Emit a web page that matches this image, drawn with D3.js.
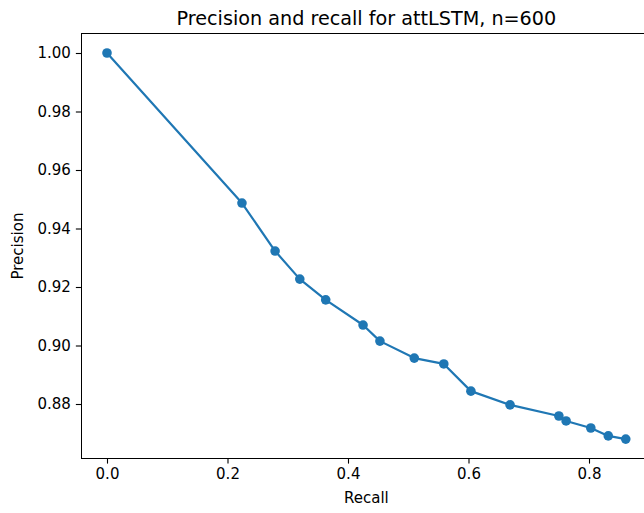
<!DOCTYPE html>
<html>
<head>
<meta charset="utf-8">
<script src="https://cdn.jsdelivr.net/npm/d3@7"></script>
<style>
  html, body { margin: 0; padding: 0; background: #fff; }
  svg { display: block; }
  text { font-family: "DejaVu Sans", sans-serif; fill: #000; }
</style>
</head>
<body>
<svg id="chart" width="644" height="513"></svg>
<script>
const recall = [0.0, 0.224, 0.279, 0.320, 0.363, 0.425, 0.453, 0.510, 0.559, 0.604, 0.669, 0.750, 0.762, 0.803, 0.832, 0.861];
const precision = [1.0, 0.9487, 0.9323, 0.9227, 0.9156, 0.9070, 0.9015, 0.8957, 0.8937, 0.8844, 0.8797, 0.8759, 0.8742, 0.8718, 0.8691, 0.8680];
const xTicks = [0.0, 0.2, 0.4, 0.6, 0.8];
const yTicks = [0.88, 0.90, 0.92, 0.94, 0.96, 0.98, 1.00];
const title = "Precision and recall for attLSTM, n=600";
const xLabel = "Recall";
const yLabel = "Precision";

const svg = d3.select("#chart");
const color = "#1f77b4";

const xExt = d3.extent(recall), yExt = d3.extent(precision);
const xPad = (xExt[1] - xExt[0]) * 0.05, yPad = (yExt[1] - yExt[0]) * 0.05;
const ppx = 602.5, ppy = 2925;
const x0 = 107, y1 = 53;
const x = d3.scaleLinear()
  .domain([xExt[0] - xPad, xExt[1] + xPad])
  .range([x0 + (xExt[0] - xPad) * ppx, x0 + (xExt[1] + xPad) * ppx]);
const y = d3.scaleLinear()
  .domain([yExt[0] - yPad, yExt[1] + yPad])
  .range([y1 + (1 - (yExt[0] - yPad)) * ppy, y1 + (1 - (yExt[1] + yPad)) * ppy]);

const L = x.range()[0], R = x.range()[1], B = y.range()[0], T = y.range()[1];

// Data line and markers
const data = recall.map((r, i) => ({ r, p: precision[i] }));
svg.append("path")
  .datum(data)
  .attr("fill", "none")
  .attr("stroke", color)
  .attr("stroke-width", 2.2)
  .attr("stroke-linejoin", "round")
  .attr("d", d3.line().x(d => x(d.r)).y(d => y(d.p)));
svg.append("g").selectAll("circle").data(data).join("circle")
  .attr("cx", d => x(d.r)).attr("cy", d => y(d.p))
  .attr("r", 4.8).attr("fill", color);

// Axes
const fmtX = d3.format(".1f"), fmtY = d3.format(".2f");
const xAxis = svg.append("g").attr("transform", `translate(0,${B})`)
  .call(d3.axisBottom(x).tickValues(xTicks).tickFormat(fmtX).tickSizeOuter(0).tickSize(5.2).tickPadding(5));
const yAxis = svg.append("g").attr("transform", `translate(${L},0)`)
  .call(d3.axisLeft(y).tickValues(yTicks).tickFormat(fmtY).tickSizeOuter(0).tickSize(5.2).tickPadding(5));
[xAxis, yAxis].forEach(g => {
  g.select(".domain").remove();
  g.selectAll(".tick line").attr("stroke", "#000").attr("stroke-width", 1.1);
  g.selectAll(".tick text").attr("font-family", "DejaVu Sans").attr("font-size", 15).attr("fill", "#000");
});

// Spines
svg.append("path")
  .attr("d", `M${L},${B}H${R}M${L},${B}V${T}M${L},${T}H${R}M${R},${T}V${B}`)
  .attr("fill", "none").attr("stroke", "#000").attr("stroke-width", 1.1)
  .attr("shape-rendering", "crispEdges");

// Title & labels
const cx = (L + R) / 2;
svg.append("text").attr("x", cx).attr("y", T - 9)
  .attr("text-anchor", "middle").attr("font-size", 19.2).text(title);
svg.append("text").attr("x", cx).attr("y", 503)
  .attr("text-anchor", "middle").attr("font-size", 15).text(xLabel);
svg.append("text").attr("transform", `translate(23,${(T + B) / 2}) rotate(-90)`)
  .attr("text-anchor", "middle").attr("font-size", 15).text(yLabel);
</script>
</body>
</html>
